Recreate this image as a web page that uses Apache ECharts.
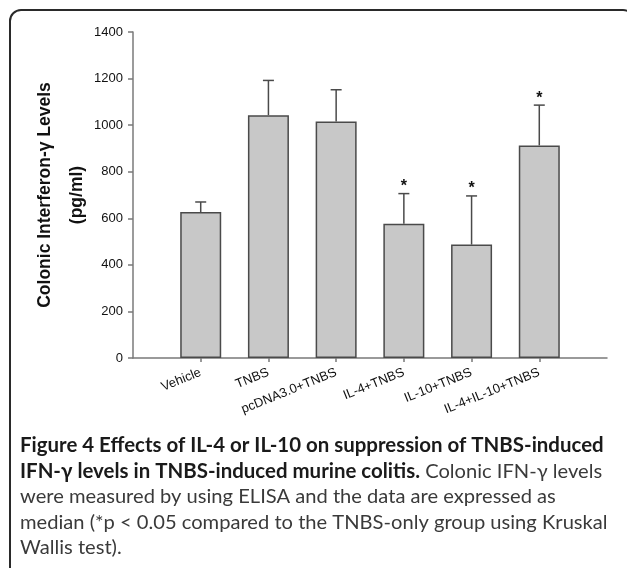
<!DOCTYPE html>
<html><head><meta charset="utf-8">
<script src="https://cdn.jsdelivr.net/npm/echarts@6/dist/echarts.min.js"></script>
<style>html,body{margin:0;padding:0;background:#fff;}#c{width:627px;height:568px;}</style>
</head><body><div id="c"></div>
<script>
const categories = ['Vehicle', 'TNBS', 'pcDNA3.0+TNBS', 'IL-4+TNBS', 'IL-10+TNBS', 'IL-4+IL-10+TNBS'];
const medians = [627, 1043, 1016, 577, 487, 913];
const errorTops = [670, 1192, 1152, 706, 696, 1086];
const significant = [false, false, false, true, true, true];
const yTitleLines = ['Colonic Interferon-γ Levels', '(pg/ml)'];
const captionBoldA = 'Figure 4 Effects of IL-4 or IL-10 on suppression of TNBS-induced';
const captionBoldB = 'IFN-γ levels in TNBS-induced murine colitis.';
const captionRegB = ' Colonic IFN-γ levels';
const captionReg = ['were measured by using ELISA and the data are expressed as',
  'median (*p < 0.05 compared to the TNBS-only group using Kruskal',
  'Wallis test).'];

function fitSize(text, weight, family, target) {
  const cv = document.createElement('canvas').getContext('2d');
  cv.font = weight + ' 20px ' + family;
  return 20 * target / cv.measureText(text).width;
}
const capFam = 'Lato';
const boldSize = fitSize(captionBoldA, 'bold', capFam, 584);
const regSize = fitSize(captionReg[0], 'normal', capFam, 536);

const xData = [''].concat(categories, ['']);
const barData = ['-'].concat(medians, ['-']);
const errData = medians.map((m, i) => [i + 1, m, errorTops[i], significant[i] ? 1 : 0]);

const axisGray = '#7a7a7a';
const labelFont = 'Liberation Sans, Arial';
const chart = echarts.init(document.getElementById('c'), null, {renderer: 'canvas'});
chart.setOption({
  animation: false,
  backgroundColor: '#fff',
  grid: {left: 133, right: 20, top: 32, bottom: 210, containLabel: false},
  xAxis: {
    type: 'category', data: xData, boundaryGap: false,
    axisLine: {show: true, lineStyle: {color: axisGray, width: 1.5}},
    axisTick: {show: true, length: 4, interval: (i) => i > 0 && i < xData.length - 1,
      lineStyle: {color: axisGray, width: 1.5}},
    axisLabel: {interval: 0, rotate: 22, margin: 14, fontFamily: labelFont,
      fontSize: 13, color: '#111'},
    splitLine: {show: false}
  },
  yAxis: {
    type: 'value', min: 0, max: 1400, interval: 200,
    axisLine: {show: true, lineStyle: {color: axisGray, width: 1.5}},
    axisTick: {show: true, length: 5, lineStyle: {color: axisGray, width: 1.5}},
    axisLabel: {margin: 10, fontFamily: labelFont, fontSize: 13, color: '#111',
      formatter: (v) => String(v)},
    splitLine: {show: false}
  },
  series: [
    {type: 'bar', data: barData, barWidth: 41,
      itemStyle: {color: '#c8c8c8', borderColor: '#4a4a4a', borderWidth: 1.5}},
    {type: 'custom', data: errData, encode: {x: 0, y: 1}, z: 3,
      renderItem: function (params, api) {
        const xi = api.value(0);
        const p0 = api.coord([xi, api.value(1)]);
        const p1 = api.coord([xi, api.value(2)]);
        const st = {stroke: '#4a4a4a', lineWidth: 1.5};
        const ch = [
          {type: 'line', shape: {x1: p0[0], y1: p0[1], x2: p1[0], y2: p1[1]}, style: st},
          {type: 'line', shape: {x1: p1[0] - 5.5, y1: p1[1], x2: p1[0] + 5.5, y2: p1[1]}, style: st}
        ];
        if (api.value(3)) {
          ch.push({type: 'text', x: p1[0], y: p1[1] - 7,
            style: {text: '*', fill: '#111', font: 'bold 16px Liberation Sans, Arial',
              textAlign: 'center', textVerticalAlign: 'middle'}});
        }
        return {type: 'group', children: ch};
      }}
  ],
  graphic: [
    {type: 'rect', shape: {x: 10, y: 10, width: 624, height: 620, r: 11}, z: -10,
      style: {fill: 'none', stroke: '#2a2a2a', lineWidth: 2}},
    {type: 'text', x: 45, y: 195, rotation: Math.PI / 2,
      style: {text: yTitleLines[0], font: 'bold 17.5px Liberation Sans, Arial', fill: '#111',
        textAlign: 'center', textVerticalAlign: 'middle'}},
    {type: 'text', x: 77, y: 195, rotation: Math.PI / 2,
      style: {text: yTitleLines[1], font: 'bold 17.5px Liberation Sans, Arial', fill: '#111',
        textAlign: 'center', textVerticalAlign: 'middle'}},
    {type: 'text', x: 20, y: 433,
      style: {
        text: '{b|' + captionBoldA + '}\n{b|' + captionBoldB + '}{r|' + captionRegB + '}\n' +
          captionReg.map(s => '{r|' + s + '}').join('\n'),
        textVerticalAlign: 'top', textAlign: 'left',
        rich: {
          b: {fontFamily: capFam, fontWeight: 'bold', fontSize: boldSize, fill: '#1a1a1a', lineHeight: 25.5},
          r: {fontFamily: capFam, fontWeight: 'normal', fontSize: regSize, fill: '#3a3a3a', lineHeight: 25.5}
        }
      }}
  ]
});
</script></body></html>
